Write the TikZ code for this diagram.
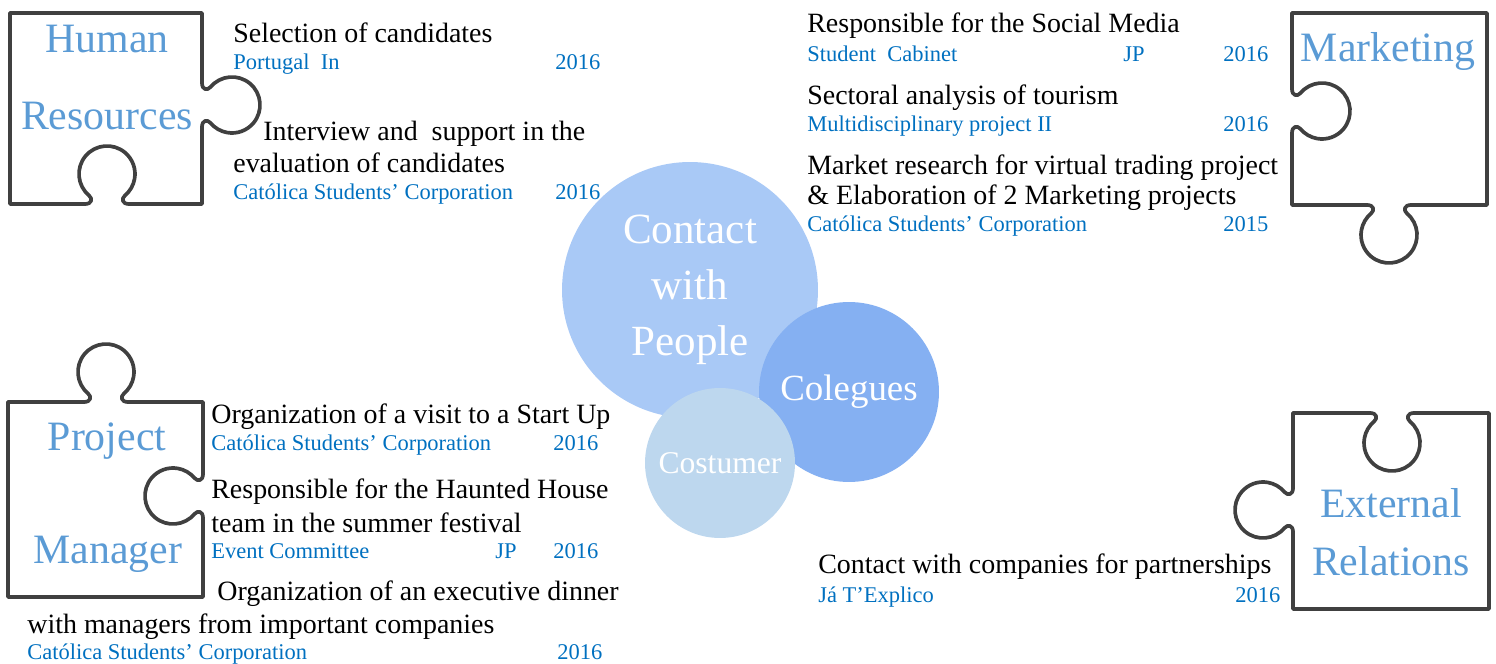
\documentclass[tikz,border=0pt]{standalone}
\usepackage{fontspec}
\setmainfont{Liberation Serif}
\usetikzlibrary{positioning}

\definecolor{piecegray}{HTML}{404040}
\definecolor{labelblue}{HTML}{5B9BD5}
\definecolor{orgblue}{HTML}{0070C0}
\definecolor{contactblue}{RGB}{169,201,246}
\definecolor{colleguesblue}{RGB}{133,176,242}
\definecolor{costumerblue}{RGB}{189,215,238}

% one tab of a puzzle piece, #1 = centre of its neck, #2 = rotation (0 = bulge up)
\newcommand\puzzletab[2]{%
  \draw[piece, shift={#1}, rotate=#2] (-22,0) .. controls (-15,0) and (-14.2,5.3) .. (-18,8.55)
    arc[start angle=230, end angle=-50, radius=28]
    .. controls (14.2,5.3) and (15,0) .. (22,0);}

\begin{document}
\begin{tikzpicture}[
        x=0.02cm, y=0.02cm,
        piece/.style={draw=piecegray, line width=2.1pt, line cap=round, line join=round},
        label/.style={anchor=base, text=labelblue, font=\fontsize{23.8}{28}\selectfont, inner sep=0pt},
        item/.style={anchor=base west, font=\fontsize{15.9}{19}\selectfont, inner sep=0pt},
        org/.style={anchor=base west, text=orgblue, font=\fontsize{12.8}{15}\selectfont, inner sep=0pt},
        bubble/.style={circle, inner sep=0pt, text=white, align=center}
    ]
        \useasboundingbox (0,0) rectangle (1496,663);

        % Circles
        \node[bubble, fill=contactblue, minimum size=5.12cm, font=\fontsize{24.5}{31.9}\selectfont] (contact) at (690,373) {Contact\\with\\People};
        \node[bubble, fill=colleguesblue, minimum size=3.6cm, font=\fontsize{21}{25}\selectfont] (colegues) at (849,271) {Colegues};
        \node[bubble, fill=costumerblue, minimum size=3cm, font=\fontsize{18}{22}\selectfont] (costumer) at (720,200) {Costumer};

        % Puzzle pieces
        \draw[piece] (202,536) -- (202,459) -- (129,459);
        \draw[piece] (85,459) -- (10,459) -- (10,650) -- (202,650) -- (202,580);
        \puzzletab{(202,558)}{-90}
        \puzzletab{(107,459)}{0}

        \draw[piece] (1292,530) -- (1292,458) -- (1367,458);
        \draw[piece] (1411,458) -- (1487,458) -- (1487,650) -- (1292,650) -- (1292,574);
        \puzzletab{(1292,552)}{-90}
        \puzzletab{(1389,458)}{180}

        \draw[piece] (84,261) -- (8,261) -- (8,66) -- (203,66) -- (203,145);
        \draw[piece] (203,189) -- (203,261) -- (128,261);
        \puzzletab{(106,261)}{0}
        \puzzletab{(203,167)}{90}

        \draw[piece] (1370,250) -- (1293,250) -- (1293,175);
        \draw[piece] (1293,131) -- (1293,54) -- (1489,54) -- (1489,250) -- (1414,250);
        \puzzletab{(1392,250)}{180}
        \puzzletab{(1293,153)}{90}

        % Piece labels
        \node[label] (human) at (107,610) {Human};
        \node[label] (resources) at (107,533) {Resources};
        \node[label] (marketing) at (1388,601) {Marketing};
        \node[label] (project) at (107,213) {Project};
        \node[label] (manager) at (108,100) {Manager};
        \node[label] (external) at (1391,146) {External};
        \node[label] (relations) at (1391,88) {Relations};

        % Human Resources
        \node[item] (selection) at (233,620) {Selection of candidates};
        \node[org] (portugal) at (233,593) {Portugal\ \ In};
        \node[org] (portugalyr) at (555,593) {2016};
        \node[item] (interview) at (263,522) {Interview and\ \ support in the};
        \node[item] (evaluation) at (233,490) {evaluation of candidates};
        \node[org] (catolicaA) at (233,463) {Católica Students’ Corporation};
        \node[org] (catolicaAyr) at (555,463) {2016};

        % Marketing
        \node[item] (social) at (807,630) {Responsible for the Social Media};
        \node[org] (cabinet) at (807,601) {Student\ \ Cabinet};
        \node[org] (cabinetjp) at (1123,601) {JP};
        \node[org] (cabinetyr) at (1223,601) {2016};
        \node[item] (sectoral) at (807,558) {Sectoral analysis of tourism};
        \node[org] (multi) at (807,531) {Multidisciplinary project II};
        \node[org] (multiyr) at (1223,531) {2016};
        \node[item] (market) at (807,488) {Market research for virtual trading project};
        \node[item] (elaboration) at (807,458) {\& Elaboration of 2 Marketing projects};
        \node[org] (catolicaB) at (807,431) {Católica Students’ Corporation};
        \node[org] (catolicaByr) at (1223,431) {2015};

        % Project Manager
        \node[item] (visit) at (211,240) {Organization of a visit to a Start Up};
        \node[org] (catolicaC) at (211,213) {Católica Students’ Corporation};
        \node[org] (catolicaCyr) at (553,213) {2016};
        \node[item] (haunted) at (211,165) {Responsible for the Haunted House};
        \node[item] (team) at (211,131) {team in the summer festival};
        \node[org] (event) at (211,105) {Event Committee};
        \node[org] (eventjp) at (495,105) {JP};
        \node[org] (eventyr) at (553,105) {2016};
        \node[item] (dinner) at (217,63) {Organization of an executive dinner};
        \node[item] (managers) at (27,30) {with managers from important companies};
        \node[org] (catolicaD) at (27,4) {Católica Students’ Corporation};
        \node[org] (catolicaDyr) at (557,4) {2016};

        % External Relations
        \node[item] (partners) at (818,90) {Contact with companies for partnerships};
        \node[org] (explico) at (818,61) {Já T’Explico};
        \node[org] (explicoyr) at (1235,61) {2016};
    \end{tikzpicture}
\end{document}
